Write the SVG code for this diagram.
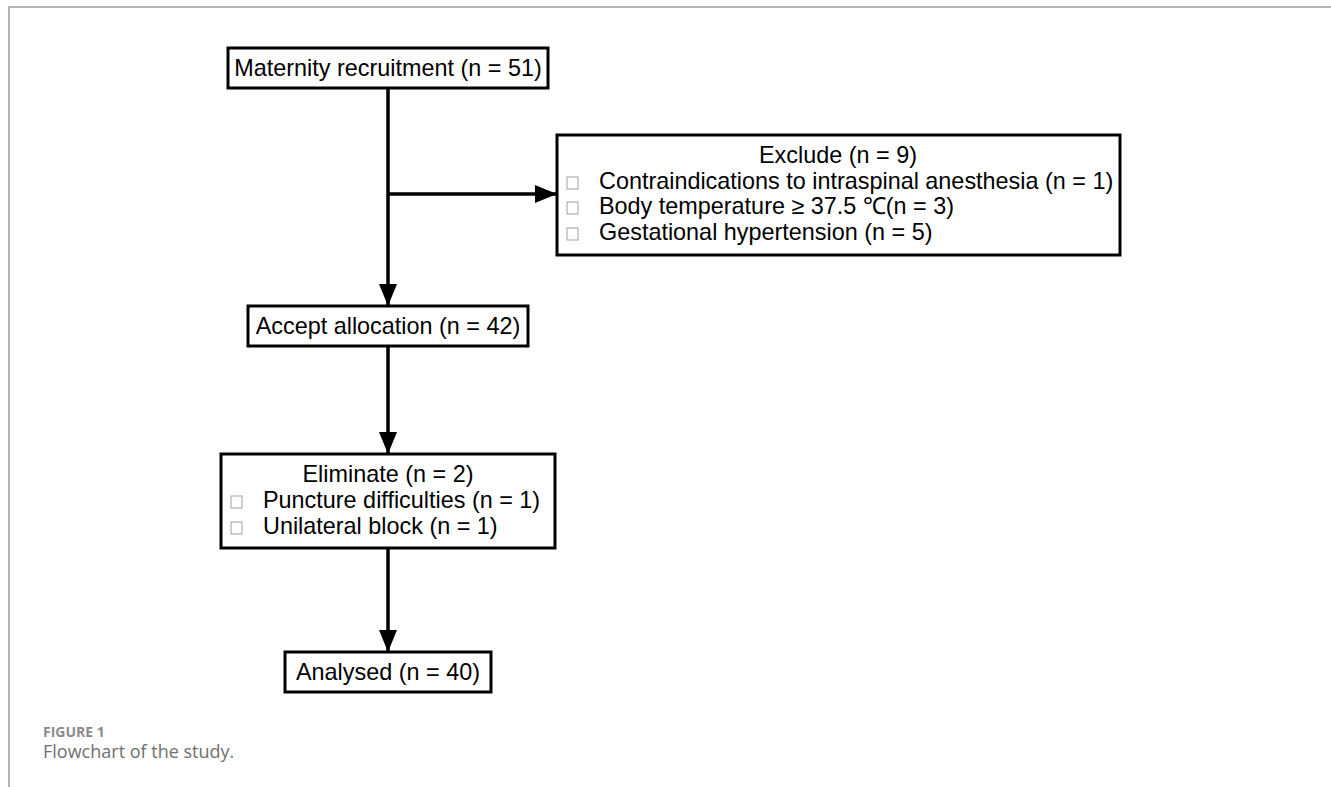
<svg xmlns="http://www.w3.org/2000/svg" width="1331" height="787" viewBox="0 0 1331 787">
<style>
.box{fill:#fff;stroke:#000;stroke-width:3}
.t{font-family:"Liberation Sans",Arial,sans-serif;font-size:23.4px;fill:#000}
.c{text-anchor:middle}
.cb{fill:none;stroke:#a0a0a0;stroke-width:1}
.ln{stroke:#000;stroke-width:3.5;fill:none}
.cap{font-family:"Open Sans",Lato,sans-serif}
</style>
<defs>
<marker id="ah" markerUnits="userSpaceOnUse" markerWidth="22" markerHeight="18" refX="22" refY="9" orient="auto">
<path d="M0,0 L22,9 L0,18 Z" fill="#000"/>
</marker>
</defs>
<rect width="1331" height="787" fill="#fff"/>
<path d="M9,787 V7 H1331" fill="none" stroke="#b4b4b4" stroke-width="2"/>
<g id="connectors">
<line class="ln" x1="388" y1="88" x2="388" y2="306" marker-end="url(#ah)"/>
<line class="ln" x1="388" y1="194" x2="557" y2="194" marker-end="url(#ah)"/>
<line class="ln" x1="388" y1="346" x2="388" y2="454" marker-end="url(#ah)"/>
<line class="ln" x1="388" y1="548" x2="388" y2="652" marker-end="url(#ah)"/>
</g>
<g id="recruitment">
<rect class="box" x="228" y="48" width="320" height="40"/>
<text class="t c" x="388" y="76">Maternity recruitment (n = 51)</text>
</g>
<g id="exclude">
<rect class="box" x="557" y="135" width="563" height="120"/>
<text class="t c" x="838" y="163">Exclude (n = 9)</text>
<rect class="cb" x="567" y="177" width="11" height="12"/>
<text class="t" x="599" y="189">Contraindications to intraspinal anesthesia (n = 1)</text>
<rect class="cb" x="567" y="202" width="11" height="12"/>
<text class="t" x="599" y="214">Body temperature ≥ 37.5 ℃(n = 3)</text>
<rect class="cb" x="567" y="228" width="11" height="12"/>
<text class="t" x="599" y="240">Gestational hypertension (n = 5)</text>
</g>
<g id="accept">
<rect class="box" x="248" y="306" width="280" height="40"/>
<text class="t c" x="388" y="334">Accept allocation (n = 42)</text>
</g>
<g id="eliminate">
<rect class="box" x="221" y="454" width="334" height="94"/>
<text class="t c" x="388" y="482">Eliminate (n = 2)</text>
<rect class="cb" x="231" y="496" width="11" height="12"/>
<text class="t" x="263" y="508">Puncture difficulties (n = 1)</text>
<rect class="cb" x="231" y="522" width="11" height="12"/>
<text class="t" x="263" y="534">Unilateral block (n = 1)</text>
</g>
<g id="analysed">
<rect class="box" x="285" y="652" width="206" height="40"/>
<text class="t c" x="388" y="680">Analysed (n = 40)</text>
</g>
<text class="cap" x="43" y="737" font-size="14" font-weight="bold" fill="#8a8a8a">FIGURE 1</text>
<text class="cap" x="43" y="758" font-size="18" fill="#707070">Flowchart of the study.</text>
</svg>
